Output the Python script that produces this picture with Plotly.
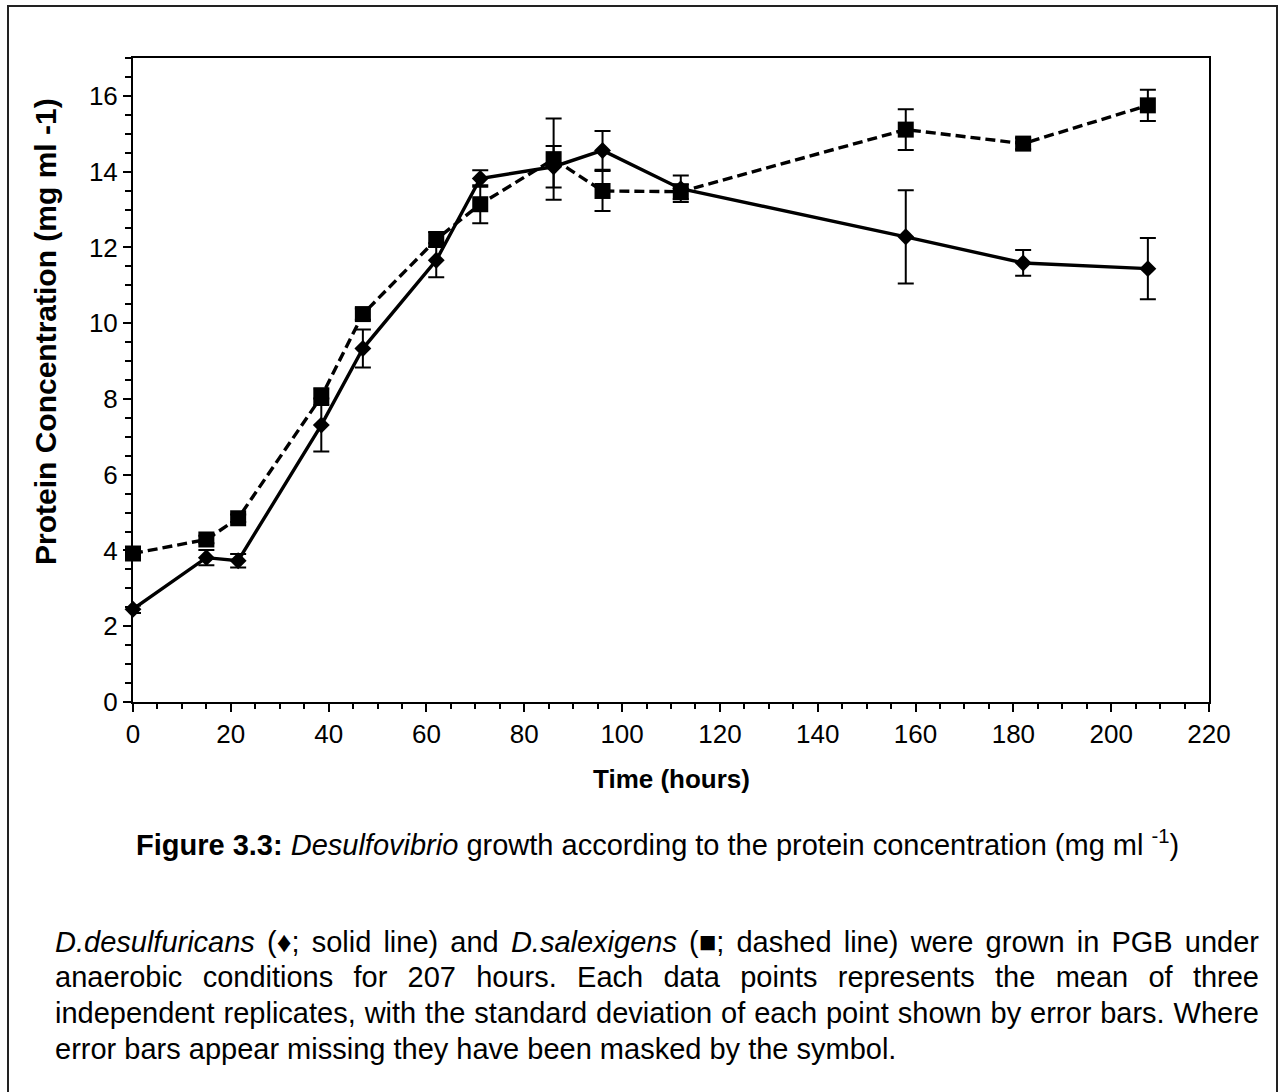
import plotly.graph_objects as go

# Sampling times (hours)
time_h = [0, 15, 21.5, 38.5, 47, 62, 71, 86, 96, 112, 158, 182, 207.5]

# D. desulfuricans: mean protein concentration and standard deviation (mg/ml)
desulf_mean = [2.45, 3.81, 3.73, 7.31, 9.33, 11.66, 13.82, 14.13, 14.56, 13.55, 12.28, 11.59, 11.44]
desulf_sd = [0.10, 0.20, 0.18, 0.70, 0.50, 0.45, 0.22, 0.55, 0.51, 0.35, 1.23, 0.34, 0.81]

# D. salexigens: mean protein concentration and standard deviation (mg/ml)
salex_mean = [3.92, 4.29, 4.85, 8.06, 10.24, 12.21, 13.14, 14.33, 13.49, 13.47, 15.11, 14.74, 15.75]
salex_sd = [0.10, 0.10, 0.10, 0.22, 0.15, 0.20, 0.50, 1.07, 0.53, 0.20, 0.54, 0.15, 0.41]

x_ticks = [0, 20, 40, 60, 80, 100, 120, 140, 160, 180, 200, 220]
y_ticks = [0, 2, 4, 6, 8, 10, 12, 14, 16]

FONT = "Liberation Sans, Arial, sans-serif"
W, H = 1279, 1092
ML, MR, MT, MB = 133, 70, 58, 390
PW, PH = W - ML - MR, H - MT - MB


def px_x(px):
    return (px - ML) / PW


def px_y(py):
    return (H - MB - py) / PH


fig = go.Figure()

fig.add_trace(go.Scatter(
    x=time_h, y=salex_mean, mode="lines+markers", name="D.salexigens",
    line=dict(color="black", width=3.4, dash="10px,5px"),
    marker=dict(symbol="square", size=16, color="black"),
    error_y=dict(type="data", array=salex_sd, visible=True,
                 color="black", thickness=2, width=8),
    cliponaxis=False,
))

fig.add_trace(go.Scatter(
    x=time_h, y=desulf_mean, mode="lines+markers", name="D.desulfuricans",
    line=dict(color="black", width=3.4),
    marker=dict(symbol="diamond", size=13, color="black"),
    error_y=dict(type="data", array=desulf_sd, visible=True,
                 color="black", thickness=2, width=8),
    cliponaxis=False,
))

tick_font = dict(family=FONT, size=26, color="black")

fig.update_xaxes(
    range=[0, 220], tickmode="array", tickvals=x_ticks,
    ticks="outside", ticklen=8, tickwidth=2, tickcolor="black",
    minor=dict(dtick=5, tick0=0, ticks="outside", ticklen=5, tickwidth=2, tickcolor="black"),
    showline=True, linewidth=2, linecolor="black", mirror=True,
    showgrid=False, zeroline=False, tickfont=tick_font,
)
fig.update_yaxes(
    range=[0, 17], tickmode="array", tickvals=y_ticks,
    ticks="outside", ticklen=8, tickwidth=2, tickcolor="black",
    minor=dict(dtick=0.5, tick0=0, ticks="outside", ticklen=6, tickwidth=2, tickcolor="black"),
    showline=True, linewidth=2, linecolor="black", mirror=True,
    showgrid=False, zeroline=False, tickfont=tick_font,
)

annotations = []

# Axis titles
annotations.append(dict(
    text="<b>Time (hours)</b>", x=px_x(671), y=px_y(779),
    xref="paper", yref="paper", xanchor="center", yanchor="middle", showarrow=False,
    font=dict(family=FONT, size=26, color="black"),
))
annotations.append(dict(
    text="<b>Protein Concentration (mg ml -1)</b>", x=px_x(45), y=px_y(332),
    xref="paper", yref="paper", xanchor="center", yanchor="middle",
    showarrow=False, textangle=-90,
    font=dict(family=FONT, size=30, color="black"),
))

# Figure caption
annotations.append(dict(
    text="<b>Figure 3.3:</b> <i>Desulfovibrio</i> growth according to the protein "
         "concentration (mg ml <sup>-1</sup>)",
    x=px_x(657), y=px_y(843), xref="paper", yref="paper",
    xanchor="center", yanchor="middle", showarrow=False,
    font=dict(family=FONT, size=29, color="black"),
))

# Legend paragraph, one annotation per line
para_lines = [
    "<i>D.desulfuricans</i> (\u2666; solid line) and <i>D.salexigens</i> (\u25a0; dashed line) "
    "were grown in PGB under",
    "anaerobic conditions for 207 hours. Each data points represents the mean of three",
    "independent replicates, with the standard deviation of each point shown by error bars. Where",
    "error bars appear missing they have been masked by the symbol.",
]
para_y = [942, 977, 1013, 1049]
justified = []
for i, (line, py) in enumerate(zip(para_lines, para_y)):
    if i < 3:
        justified.append(len(annotations))
    annotations.append(dict(
        text=line, x=px_x(53), y=px_y(py), xref="paper", yref="paper",
        xanchor="left", yanchor="middle", align="left", showarrow=False,
        font=dict(family=FONT, size=29, color="black"),
    ))

# Outer frame around figure and caption
shapes = [dict(
    type="rect", xref="paper", yref="paper",
    x0=px_x(8), x1=px_x(1277), y0=px_y(1110), y1=px_y(6),
    line=dict(color="#222", width=2), fillcolor="rgba(0,0,0,0)", layer="below",
)]

fig.update_layout(
    width=W, height=H,
    margin=dict(l=ML, r=MR, t=MT, b=MB, pad=0),
    paper_bgcolor="white", plot_bgcolor="white",
    showlegend=False,
    font=dict(family=FONT, color="black"),
    annotations=annotations, shapes=shapes,
)

# Justify the full-width paragraph lines between the left and right text margins
justify_js = """
(function(){
  var gd = document.getElementById('{plot_id}');
  var target = TARGET;
  var idx = INDICES;
  idx.forEach(function(i){
    var t = gd.querySelector('.annotation[data-index="' + i + '"] text.annotation-text');
    if (!t) return;
    t.style.wordSpacing = '0px';
    var len = t.getComputedTextLength();
    var n = (t.textContent.match(/ /g) || []).length;
    if (n > 0 && target > len) t.style.wordSpacing = ((target - len) / n) + 'px';
  });
})();
""".replace("TARGET", str(1257 - 53)).replace("INDICES", str(justified))

fig.write_html("out.html", post_script=justify_js)
